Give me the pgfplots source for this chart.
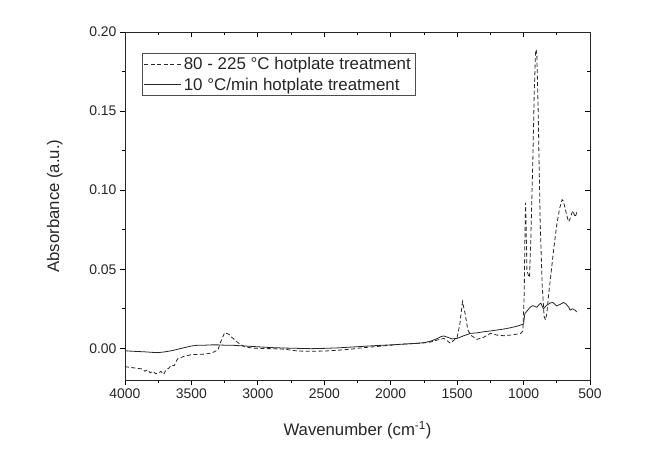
\documentclass[border=0pt]{standalone}
\usepackage{pgfplots}
\pgfplotsset{compat=1.18}
\usepackage{fontspec}
\setmainfont{Liberation Sans}
\setsansfont{Liberation Sans}

\pgfplotstableread{
x y
4000 -0.0116
3960 -0.0120
3920 -0.0125
3900 -0.0127
3870 -0.0130
3850 -0.0145
3830 -0.0135
3810 -0.0155
3790 -0.0145
3770 -0.0160
3750 -0.0158
3730 -0.0145
3710 -0.0165
3690 -0.0135
3670 -0.0125
3650 -0.0106
3630 -0.0110
3610 -0.0075
3600 -0.0063
3570 -0.0055
3550 -0.0049
3500 -0.0040
3450 -0.0038
3400 -0.0036
3350 -0.0030
3300 -0.0010
3280 0.0040
3250 0.0099
3220 0.0090
3200 0.0073
3150 0.0036
3100 0.0010
3050 0.0003
3000 0.0000
2900 -0.0002
2800 -0.0005
2700 -0.0017
2600 -0.0018
2500 -0.0017
2400 -0.0012
2300 -0.0005
2200 0.0005
2100 0.0012
2000 0.0020
1900 0.0027
1800 0.0032
1750 0.0035
1700 0.0040
1650 0.0053
1600 0.0063
1570 0.0045
1550 0.0032
1520 0.0055
1500 0.0070
1480 0.0150
1460 0.0295
1440 0.0220
1420 0.0120
1400 0.0084
1350 0.0057
1300 0.0070
1250 0.0095
1200 0.0084
1150 0.0080
1100 0.0084
1050 0.0090
1020 0.0095
1005 0.0110
995 0.0350
990 0.0700
985 0.0920
980 0.0750
975 0.0500
970 0.0480
960 0.0450
955 0.0450
945 0.0700
930 0.1200
920 0.1600
910 0.1870
905 0.1890
900 0.1850
890 0.1500
875 0.0800
860 0.0400
845 0.0200
835 0.0180
825 0.0220
810 0.0350
790 0.0500
770 0.0650
750 0.0780
730 0.0880
710 0.0940
700 0.0930
680 0.0860
665 0.0810
660 0.0800
650 0.0820
630 0.0870
620 0.0850
610 0.0830
600 0.0860
}\dashdata

\pgfplotstableread{
x y
4000 -0.0015
3950 -0.0018
3900 -0.0020
3850 -0.0022
3800 -0.0025
3750 -0.0027
3700 -0.0022
3650 -0.0015
3600 -0.0005
3550 0.0005
3500 0.0015
3450 0.0020
3400 0.0020
3350 0.0022
3300 0.0022
3250 0.0020
3200 0.0020
3100 0.0015
3000 0.0010
2900 0.0005
2800 0.0002
2700 0.0000
2600 -0.0002
2500 0.0000
2400 0.0003
2300 0.0008
2200 0.0013
2100 0.0018
2000 0.0022
1900 0.0027
1800 0.0032
1750 0.0036
1700 0.0045
1650 0.0062
1620 0.0075
1600 0.0078
1570 0.0070
1540 0.0060
1500 0.0063
1450 0.0080
1400 0.0095
1350 0.0098
1300 0.0105
1250 0.0110
1200 0.0116
1150 0.0122
1100 0.0130
1050 0.0140
1000 0.0154
995 0.0190
990 0.0220
970 0.0240
950 0.0260
930 0.0270
900 0.0260
880 0.0280
870 0.0285
850 0.0250
830 0.0270
800 0.0287
780 0.0290
750 0.0268
720 0.0280
700 0.0290
680 0.0280
660 0.0260
650 0.0242
630 0.0250
610 0.0240
600 0.0230
}\soliddata

\begin{document}
\begin{tikzpicture}
\path[use as bounding box, fill=white] (-125bp,-70bp) rectangle (541bp,380bp);
\pgfplotsset{
  common/.style={
    scale only axis, width=465bp, height=348bp,
    at={(0,0)}, anchor=south west,
    x dir=reverse,
    xmin=500, xmax=4000, ymin=-0.02, ymax=0.20,
    xtick={500,1000,...,4000},
    minor xtick={750,1250,...,3750},
    ytick={0,0.05,...,0.20},
    minor ytick={-0.025,0.025,0.075,0.125,0.175},
    major tick length=5bp, minor tick length=3bp,
    every tick/.style={black, line width=0.8pt},
    axis line style={line width=0.9pt, black!85},
  }
}
\begin{axis}[common,
  tick align=outside,
  xtick pos=bottom, ytick pos=left,
  tick label style={font=\fontsize{14}{16}\selectfont, black!85},
  xticklabel style={/pgf/number format/.cd, fixed, 1000 sep={}},
  yticklabel style={/pgf/number format/.cd, fixed, fixed zerofill, precision=2},
  /pgf/number format/assume math mode=true,
  xlabel={Wavenumber (cm\textsuperscript{-1})},
  ylabel={Absorbance (a.u.)},
  label style={font=\fontsize{16.8}{19}\selectfont, black!85},
  xlabel style={at={(axis description cs:0.5,0)}, anchor=north, yshift=-38bp},
  ylabel style={at={(axis description cs:0,0.5)}, anchor=south, yshift=59bp},
  legend style={at={(axis description cs:0.036,0.94)}, anchor=north west,
    draw=black!70, line width=0.6pt, font=\fontsize{17}{20}\selectfont,
    inner sep=2pt, row sep=3pt, text=black!85},
  legend cell align=left,
  legend image code/.code={\draw[#1] (0bp,0bp) -- (37bp,0bp);},
]
\addplot[black!85, line width=0.8pt, dash pattern=on 4bp off 2.5bp] table {\dashdata};
\addlegendentry{80 - 225 °C hotplate treatment}
\addplot[black!85, line width=0.8pt] table {\soliddata};
\addlegendentry{10 °C/min hotplate treatment}
\end{axis}
\begin{axis}[common,
  tick align=inside,
  xtick pos=top, ytick pos=right,
  xticklabels={}, yticklabels={},
  axis lines=box,
]
\end{axis}
\end{tikzpicture}
\end{document}
